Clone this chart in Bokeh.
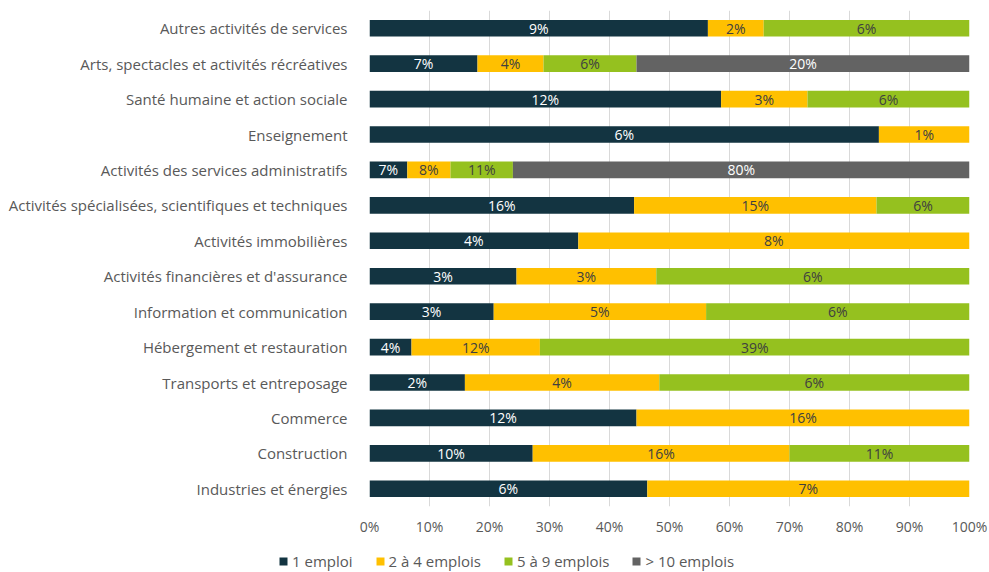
import numpy as np
from bokeh.plotting import figure
from bokeh.layouts import column
from bokeh.models import ColumnDataSource, FixedTicker, PrintfTickFormatter, Legend, LegendItem, FactorRange
from bokeh.core.properties import value
from bokeh.embed import file_html
from bokeh.resources import INLINE

categories = [
    "Autres activités de services",
    "Arts, spectacles et activités récréatives",
    "Santé humaine et action sociale",
    "Enseignement",
    "Activités des services administratifs",
    "Activités spécialisées, scientifiques et techniques",
    "Activités immobilières",
    "Activités financières et d'assurance",
    "Information et communication",
    "Hébergement et restauration",
    "Transports et entreposage",
    "Commerce",
    "Construction",
    "Industries et énergies",
]
series_names = ["1 emploi", "2 à 4 emplois", "5 à 9 emplois", "> 10 emplois"]

# segment widths (share of the 100% bar)
share_1 = [56.4, 18.0, 58.6, 84.9, 6.3, 44.1, 34.8, 24.5, 20.7, 7.0, 15.9, 44.5, 27.2, 46.3]
share_2_4 = [9.3, 11.0, 14.4, 15.1, 7.2, 40.4, 65.2, 23.3, 35.4, 21.4, 32.4, 55.5, 42.8, 53.7]
share_5_9 = [34.3, 15.5, 27.0, 0, 10.4, 15.5, 0, 52.2, 43.9, 71.6, 51.7, 0, 30.0, 0]
share_10 = [0, 55.5, 0, 0, 76.1, 0, 0, 0, 0, 0, 0, 0, 0, 0]

# printed labels
label_1 = ["9%", "7%", "12%", "6%", "7%", "16%", "4%", "3%", "3%", "4%", "2%", "12%", "10%", "6%"]
label_2_4 = ["2%", "4%", "3%", "1%", "8%", "15%", "8%", "3%", "5%", "12%", "4%", "16%", "16%", "7%"]
label_5_9 = ["6%", "6%", "6%", "", "11%", "6%", "", "6%", "6%", "39%", "6%", "", "11%", ""]
label_10 = ["", "20%", "", "", "80%", "", "", "", "", "", "", "", "", ""]

x_ticks = [0, 10, 20, 30, 40, 50, 60, 70, 80, 90, 100]

colors = ["#133441", "#ffc000", "#95c11f", "#636363"]
text_colors = ["#ffffff", "#404040", "#404040", "#ffffff"]
FONT = "Open Sans"

shares = [share_1, share_2_4, share_5_9, share_10]
labels = [label_1, label_2_4, label_5_9, label_10]
keys = ["s1", "s2", "s3", "s4"]

data = {"cat": categories}
for k, s in zip(keys, shares):
    data[k] = s
source = ColumnDataSource(data)

p = figure(
    width=989, height=545,
    y_range=FactorRange(factors=list(reversed(categories)), range_padding=0),
    x_range=(0, 100),
    output_backend="svg", toolbar_location=None,
    min_border_left=369, min_border_right=20, min_border_top=10, min_border_bottom=39,
)
p.outline_line_color = None

p.hbar_stack(keys, y="cat", height=0.47, color=colors, source=source, line_color=None)

# labels
arr = np.array(shares, dtype=float)
cum = np.cumsum(arr, axis=0)
for i in range(4):
    left = cum[i] - arr[i]
    mids = left + arr[i] / 2
    txt = [l if w > 0 else "" for l, w in zip(labels[i], arr[i])]
    ts = ColumnDataSource(dict(x=mids, y=categories, t=txt))
    p.text(x="x", y="y", text="t", source=ts, text_align="center", text_baseline="middle",
           text_color=text_colors[i], text_font=value(FONT), text_font_size="14px")

p.xaxis.ticker = FixedTicker(ticks=x_ticks)
p.xaxis.formatter = PrintfTickFormatter(format="%d%%")
p.xaxis.axis_line_color = None
p.xaxis.major_tick_line_color = None
p.xaxis.minor_tick_line_color = None
p.xaxis.major_label_text_font = FONT
p.xaxis.major_label_text_font_size = "14px"
p.xaxis.major_label_text_color = "#595959"
p.xaxis.major_label_standoff = 4

p.yaxis.axis_line_color = None
p.yaxis.major_tick_line_color = None
p.yaxis.minor_tick_line_color = None
p.yaxis.major_label_text_font = FONT
p.yaxis.major_label_text_font_size = "15px"
p.yaxis.major_label_text_color = "#595959"
p.yaxis.major_label_standoff = 16

p.xgrid.grid_line_color = "#d9d9d9"
p.ygrid.grid_line_color = None

# legend strip
lg = figure(width=989, height=27, x_range=(0, 1), y_range=(0, 1),
            output_backend="svg", toolbar_location=None,
            min_border_left=0, min_border_right=0, min_border_top=0, min_border_bottom=0)
if "frame_align" in lg.properties():
    lg.frame_align = False
lg.axis.visible = False
lg.grid.visible = False
lg.outline_line_color = None
items = []
for name, c in zip(series_names, colors):
    r = lg.hbar(y=[-5], left=[0], right=[0], height=0.1, color=c, line_color=None)
    items.append(LegendItem(label=name, renderers=[r]))
legend = Legend(
    items=items, orientation="horizontal", location=(278, 1),
    glyph_width=10, glyph_height=10, label_height=16,
    label_text_font=FONT, label_text_font_size="15px", label_text_color="#595959",
    label_standoff=4, spacing=22, padding=0, margin=0,
    border_line_color=None, background_fill_alpha=0,
)
lg.add_layout(legend, "center")

layout = column(p, lg, spacing=0)
open("out.html", "w").write(file_html(layout, INLINE))
